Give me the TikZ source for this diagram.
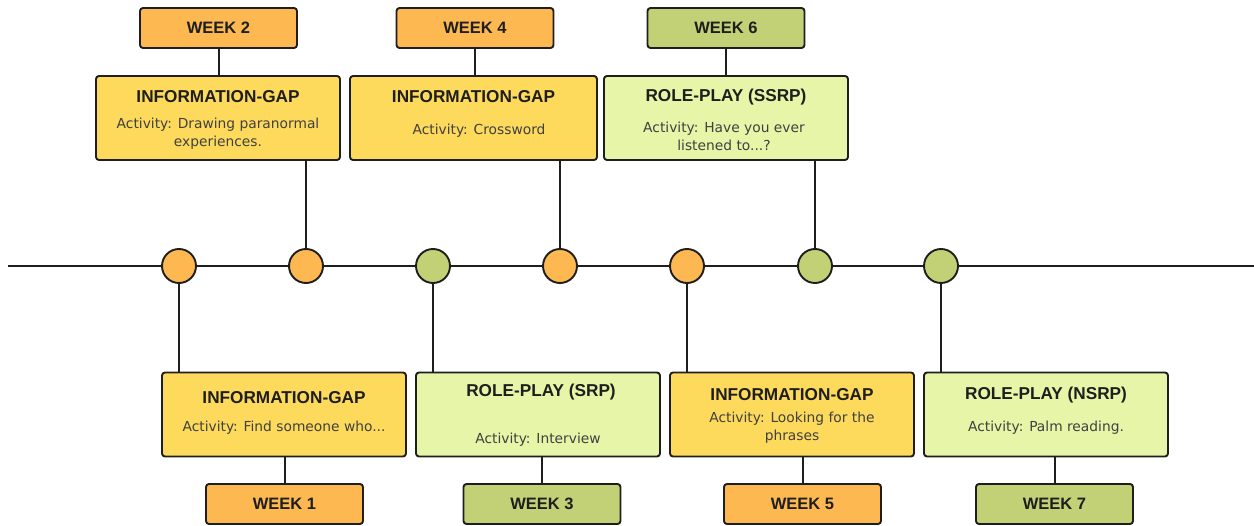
\documentclass[tikz,border=0pt]{standalone}
\usepackage{fontspec}
\setmainfont{Liberation Sans}
\newfontfamily\actfont{DejaVu Sans}
\definecolor{wkorange}{HTML}{FDB851}
\definecolor{wkgreen}{HTML}{C2D176}
\definecolor{igyellow}{HTML}{FDDA5C}
\definecolor{rplight}{HTML}{E6F5A8}
\definecolor{edgec}{HTML}{1E1E1E}
\definecolor{actc}{HTML}{404040}
\tikzset{
  card/.style={draw=edgec, line width=1.9pt, rounded corners=3pt, minimum width=244pt, minimum height=84pt, inner sep=0pt},
  weekbox/.style={draw=edgec, line width=1.9pt, rounded corners=3pt, minimum width=157pt, minimum height=40pt, inner sep=0pt, font=\fontsize{16.5}{18}\selectfont\bfseries, text=edgec},
  ttl/.style={font=\fontsize{17.2}{18}\selectfont\bfseries, text=edgec, inner sep=0pt},
  act/.style={font=\actfont\fontsize{13.8}{18}\selectfont, text=actc, align=center, inner sep=0pt},
  conn/.style={draw=edgec, line width=2pt},
  dot/.style={circle, draw=edgec, line width=1.9pt, minimum size=34pt, inner sep=0pt}
}
\begin{document}
\begin{tikzpicture}[x=1pt,y=-1pt]
\useasboundingbox (0,0) rectangle (1254,526);
% timeline
\coordinate (tl) at (8,266);
\coordinate (tr) at (1254,266);
\draw[conn] (tl) -- (tr);
% top weeks
\node[weekbox, fill=wkorange] (w2) at (218.5,28) {WEEK 2};
\node[weekbox, fill=wkorange] (w4) at (475,28) {WEEK 4};
\node[weekbox, fill=wkgreen] (w6) at (726,28) {WEEK 6};
% top cards
\node[card, fill=igyellow] (b2) at (218,118) {};
\node[ttl] (b2t) at (218,97) {INFORMATION-GAP};
\node[act] (b2a) at (218,134) {Activity: Drawing paranormal\\experiences.};
\node[card, fill=igyellow, minimum width=247pt] (b4) at (473.5,118) {};
\node[ttl] (b4t) at (473.5,97) {INFORMATION-GAP};
\node[act] (b4a) at (479,131) {Activity: Crossword};
\node[card, fill=rplight] (b6) at (726,118) {};
\node[ttl] (b6t) at (726,97) {ROLE-PLAY (SSRP)};
\node[act] (b6a) at (724,136) {Activity: Have you ever\\listened to...?};
% bottom cards
\node[card, fill=igyellow] (b1) at (284,414.5) {};
\node[ttl] (b1t) at (284,398) {INFORMATION-GAP};
\node[act] (b1a) at (284,428) {Activity: Find someone who...};
\node[card, fill=rplight] (b3) at (538,414.5) {};
\node[ttl] (b3t) at (541,392) {ROLE-PLAY (SRP)};
\node[act] (b3a) at (538,440) {Activity: Interview};
\node[card, fill=igyellow] (b5) at (792,414.5) {};
\node[ttl] (b5t) at (792,395) {INFORMATION-GAP};
\node[act] (b5a) at (792,428) {Activity: Looking for the\\phrases};
\node[card, fill=rplight] (b7) at (1046,414.5) {};
\node[ttl] (b7t) at (1046,395) {ROLE-PLAY (NSRP)};
\node[act] (b7a) at (1046,428) {Activity: Palm reading.};
% bottom weeks
\node[weekbox, fill=wkorange] (w1) at (284.5,504) {WEEK 1};
\node[weekbox, fill=wkgreen] (w3) at (542,504) {WEEK 3};
\node[weekbox, fill=wkorange] (w5) at (802.5,504) {WEEK 5};
\node[weekbox, fill=wkgreen] (w7) at (1054.5,504) {WEEK 7};
% circles
\coordinate (p1) at (179,266);
\coordinate (p2) at (306,266);
\coordinate (p3) at (433,266);
\coordinate (p4) at (560,266);
\coordinate (p5) at (687,266);
\coordinate (p6) at (815,266);
\coordinate (p7) at (941,266);
% connectors
\draw[conn] (w2.south) -- (w2.south |- b2.north);
\draw[conn] (w4.south) -- (w4.south |- b4.north);
\draw[conn] (w6.south) -- (w6.south |- b6.north);
\draw[conn] (p2 |- b2.south) -- (p2);
\draw[conn] (p4 |- b4.south) -- (p4);
\draw[conn] (p6 |- b6.south) -- (p6);
\draw[conn] (p1) -- (p1 |- b1.north);
\draw[conn] (p3) -- (p3 |- b3.north);
\draw[conn] (p5) -- (p5 |- b5.north);
\draw[conn] (p7) -- (p7 |- b7.north);
\draw[conn] (w1.north |- b1.south) -- (w1.north);
\draw[conn] (w3.north |- b3.south) -- (w3.north);
\draw[conn] (w5.north |- b5.south) -- (w5.north);
\draw[conn] (w7.north |- b7.south) -- (w7.north);
\node[dot, fill=wkorange] (c1) at (p1) {};
\node[dot, fill=wkorange] (c2) at (p2) {};
\node[dot, fill=wkgreen] (c3) at (p3) {};
\node[dot, fill=wkorange] (c4) at (p4) {};
\node[dot, fill=wkorange] (c5) at (p5) {};
\node[dot, fill=wkgreen] (c6) at (p6) {};
\node[dot, fill=wkgreen] (c7) at (p7) {};
\end{tikzpicture}
\end{document}
